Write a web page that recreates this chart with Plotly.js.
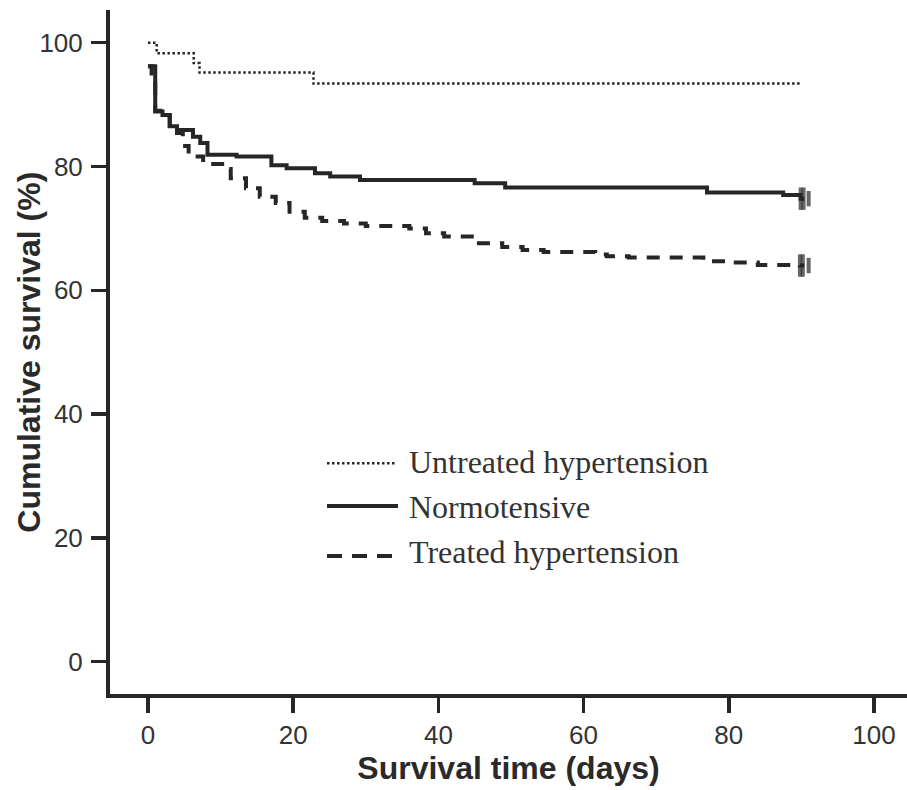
<!DOCTYPE html>
<html>
<head>
<meta charset="utf-8">
<script src="https://cdn.plot.ly/plotly-3.0.1.min.js"></script>
<style>html,body{margin:0;padding:0;background:#fff;}#chart{width:907px;height:790px;}</style>
</head>
<body>
<div id="chart"></div>
<script>
// Series names
const seriesNames = ["Untreated hypertension", "Normotensive", "Treated hypertension"];

// Untreated hypertension (dotted)
const untreatedT = [0, 1.2, 6.3, 7.1, 22.8, 89.9];
const untreatedS = [100, 98.3, 96.7, 95.2, 93.4, 93.4];

// Normotensive (solid)
const normoT = [0, 1.0, 2.0, 3.0, 4.0, 6.2, 7.2, 8.2, 12.2, 17.0, 19.1, 23.0, 25.1, 29.2, 45.0, 49.2, 77.0, 87.5, 89.9, 90.4];
const normoS = [96.2, 88.9, 88.3, 86.5, 85.9, 84.8, 83.8, 81.9, 81.6, 80.2, 79.7, 78.9, 78.4, 77.8, 77.3, 76.6, 75.8, 75.4, 74.8, 74.8];
const normoCensT = [89.9, 90.3, 91.0];
const normoCensS = [74.8, 74.8, 74.8];

// Treated hypertension (dashed)
const treatedT = [0, 0.5, 1.0, 2.0, 3.0, 4.0, 4.8, 5.6, 7.6, 10.6, 11.4, 13.5, 15.4, 17.6, 19.5, 21.6, 24.0, 27.0, 30.0, 36.0, 38.3, 40.8, 45.0, 48.8, 51.6, 54.5, 61.6, 63.2, 66.2, 76.5, 80.5, 84.0, 89.8, 90.4];
const treatedS = [96.2, 93.7, 89.0, 88.2, 86.6, 85.4, 83.3, 81.6, 80.4, 79.6, 78.1, 76.5, 75.1, 74.1, 72.7, 71.7, 71.2, 70.8, 70.4, 70.0, 69.2, 68.7, 67.6, 67.0, 66.5, 66.2, 65.8, 65.5, 65.3, 64.7, 64.5, 64.1, 64.0, 64.0];
const treatedCensT = [89.8, 90.2, 91.0];
const treatedCensS = [64.0, 64.0, 64.0];

// Axis ticks
const xTicks = [0, 20, 40, 60, 80, 100];
const yTicks = [0, 20, 40, 60, 80, 100];

const ink = '#262626';

const traces = [
  {x: untreatedT, y: untreatedS, mode: 'lines', line: {shape: 'hv', color: ink, width: 2.5, dash: '2.5px,2.5px'}, name: seriesNames[0], showlegend: false, hoverinfo: 'skip'},
  {x: normoT, y: normoS, mode: 'lines', line: {shape: 'hv', color: ink, width: 4}, name: seriesNames[1], showlegend: false, hoverinfo: 'skip'},
  {x: treatedT, y: treatedS, mode: 'lines', line: {shape: 'hv', color: ink, width: 4, dash: '13px,10px'}, name: seriesNames[2], showlegend: false, hoverinfo: 'skip'},
  {x: normoCensT, y: normoCensS, mode: 'markers', marker: {symbol: 'line-ns-open', color: ink, size: [16, 16, 11], line: {color: ink, width: 4}}, showlegend: false, hoverinfo: 'skip'},
  {x: treatedCensT, y: treatedCensS, mode: 'markers', marker: {symbol: 'line-ns-open', color: ink, size: [16, 16, 11], line: {color: ink, width: 4}}, showlegend: false, hoverinfo: 'skip'}
];

const legendRowsY = [0.3396, 0.2734, 0.208];
const legendLineY = [0.3373, 0.2749, 0.2018];
const legendLineX1 = [0.3576, 0.3614, 0.3538];
const legendDash = ['2.5px,2.5px', 'solid', '15px,10px'];
const legendWidth = [2.5, 4, 4];

const shapes = legendLineY.map((yy, i) => ({
  type: 'line', xref: 'paper', yref: 'paper', x0: 0.2723, x1: legendLineX1[i], y0: yy, y1: yy,
  line: {color: ink, width: legendWidth[i], dash: legendDash[i]}
}));

const annotations = seriesNames.map((nm, i) => ({
  text: nm, xref: 'paper', yref: 'paper', x: 0.3726, y: legendRowsY[i], xanchor: 'left', yanchor: 'middle',
  showarrow: false, font: {family: 'Liberation Serif, Times New Roman, serif', size: 32, color: '#333'}
}));
annotations.push({
  text: '<b>Cumulative survival (%)</b>', xref: 'paper', yref: 'paper', x: -0.102, y: 0.5,
  xanchor: 'center', yanchor: 'middle', textangle: -90, showarrow: false,
  font: {family: 'Liberation Sans, Arial, sans-serif', size: 32, color: '#2a2a2a'}
});

const layout = {
  width: 907, height: 790,
  margin: {l: 110, r: 0, t: 10, b: 96, pad: 0},
  paper_bgcolor: '#fff', plot_bgcolor: '#fff',
  showlegend: false,
  xaxis: {
    range: [-5.23, 104.55], tickvals: xTicks, ticktext: xTicks.map(String),
    showgrid: false, zeroline: false, showline: true, linecolor: ink, linewidth: 4,
    ticks: 'outside', ticklen: 15, tickwidth: 3.5, tickcolor: ink,
    tickfont: {family: 'Liberation Sans, Arial, sans-serif', size: 26, color: '#333'},
    title: {text: '<b>Survival time (days)</b>', standoff: 4, font: {family: 'Liberation Sans, Arial, sans-serif', size: 32, color: '#2a2a2a'}}
  },
  yaxis: {
    range: [-5.22, 105.28], tickvals: yTicks, ticktext: yTicks.map(String),
    showgrid: false, zeroline: false, showline: true, linecolor: ink, linewidth: 4,
    ticks: 'outside', ticklen: 15, tickwidth: 3.5, tickcolor: ink, ticklabelstandoff: 3,
    tickfont: {family: 'Liberation Sans, Arial, sans-serif', size: 26, color: '#333'}
  },
  shapes: shapes,
  annotations: annotations
};

Plotly.newPlot('chart', traces, layout, {staticPlot: true, displayModeBar: false});
</script>
</body>
</html>
